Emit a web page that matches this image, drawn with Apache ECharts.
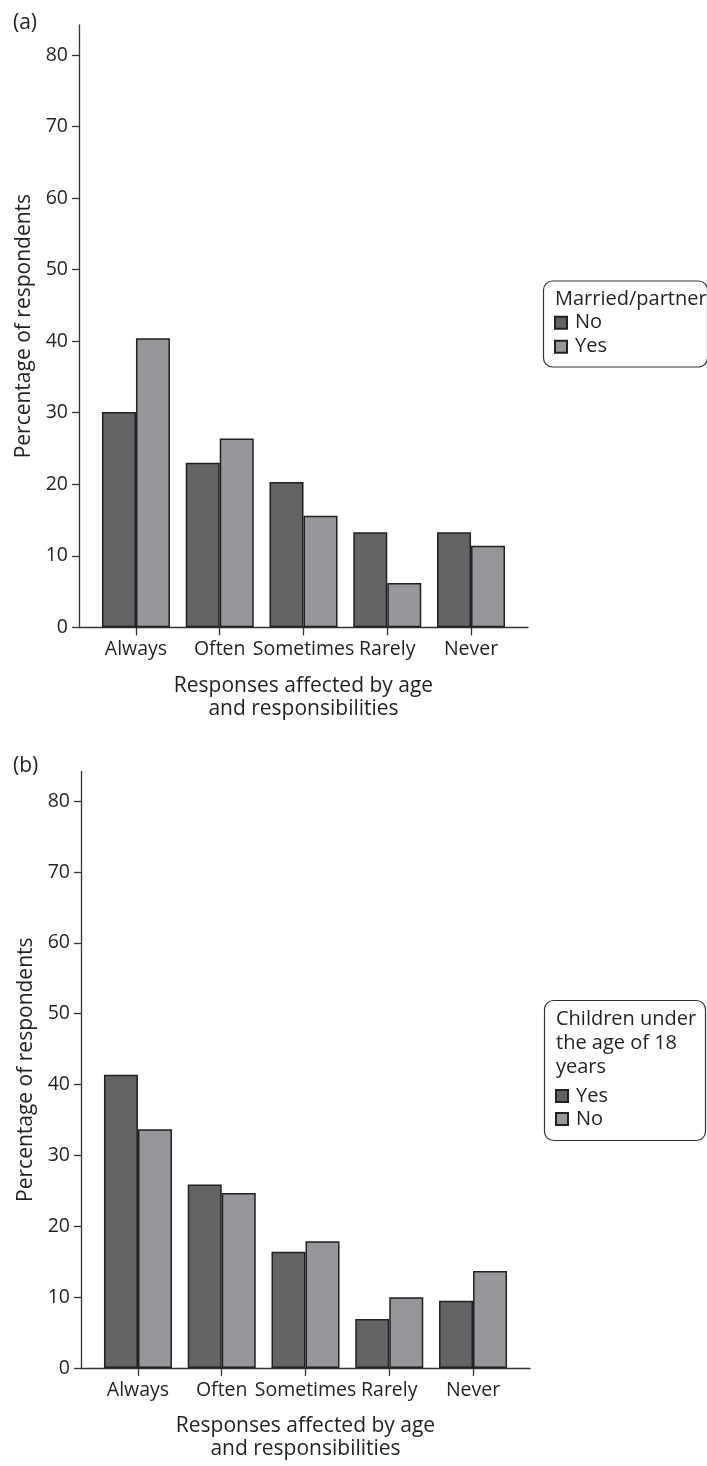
<!DOCTYPE html>
<html>
<head>
<meta charset="utf-8">
<script src="https://cdn.jsdelivr.net/npm/echarts@6/dist/echarts.min.js"></script>
<style>
  html, body { margin: 0; padding: 0; background: #fff; }
  #wrap { position: relative; width: 707px; height: 1466px; }
  #ca { position: absolute; left: 0; top: 0; width: 707px; height: 733px; }
  #cb { position: absolute; left: 0; top: 733px; width: 707px; height: 733px; }
</style>
</head>
<body>
<div id="wrap"><div id="ca"></div><div id="cb"></div></div>
<script>
const categories = ['Always', 'Often', 'Sometimes', 'Rarely', 'Never'];
const yTickValues = [0, 10, 20, 30, 40, 50, 60, 70, 80];
const xTickValues = [0, 1, 2, 3, 4];

// Panel (a): Married/partner
const marriedNo = [30.1, 23.0, 20.3, 13.3, 13.3];
const marriedYes = [40.4, 26.4, 15.6, 6.2, 11.4];
// Panel (b): Children under the age of 18 years
const childrenYes = [41.4, 25.9, 16.4, 6.9, 9.5];
const childrenNo = [33.7, 24.7, 17.9, 10.0, 13.7];

const TXT = '#231f20';
const DARK = '#636466';
const LIGHT = '#96979a';
const FONT = 'Open Sans';
const FS = 19.5;   // tick labels
const FSN = 21;    // axis names
const FSL = 20;    // legend text

function pairs(arr) { return arr.map((v, i) => [i, v]); }

function makeOption(c) {
  return {
    animation: false,
    textStyle: { fontFamily: FONT, color: TXT },
    title: [
      { text: c.panel, left: 13, top: c.panelTop, padding: 0,
        textStyle: { fontFamily: FONT, fontSize: 21, fontWeight: 'normal', color: TXT } },
      { text: c.legendTitle, left: c.boxLeft, top: c.boxTop, padding: c.boxPad,
        borderColor: '#333', borderWidth: 1.2, borderRadius: 9,
        textStyle: { fontFamily: FONT, fontSize: FSL, fontWeight: 'normal', color: TXT, lineHeight: c.lh } }
    ],
    legend: {
      data: c.names, orient: 'vertical', left: c.boxLeft + 11, top: c.legendTop,
      padding: 0, itemGap: 0, itemWidth: 12, itemHeight: 12, icon: 'rect',
      selectedMode: false,
      textStyle: { fontFamily: FONT, fontSize: FSL, color: TXT, lineHeight: c.lh2, padding: [0, 0, 0, 3] }
    },
    grid: { left: c.gridLeft, top: c.gridTop, width: 449, height: c.gridH, containLabel: false },
    xAxis: {
      type: 'value', min: -0.68, max: 4.68,
      splitLine: { show: false },
      axisLine: { show: true, onZero: false, lineStyle: { color: '#333', width: 1.3 } },
      axisTick: { show: true, length: 8, customValues: xTickValues, lineStyle: { color: '#333', width: 1.3 } },
      axisLabel: { customValues: xTickValues, margin: 12, fontFamily: FONT, fontSize: FS, color: TXT,
        formatter: v => categories[Math.round(v)] },
      name: 'Responses affected by age\nand responsibilities',
      nameLocation: 'middle', nameGap: 47,
      nameTextStyle: { fontFamily: FONT, fontSize: FSN, color: TXT, lineHeight: 23 }
    },
    yAxis: {
      type: 'value', min: 0, max: 84.2,
      splitLine: { show: false },
      axisLine: { show: true, onZero: false, lineStyle: { color: '#333', width: 1.3 } },
      axisTick: { show: true, length: 7, customValues: yTickValues, lineStyle: { color: '#333', width: 1.3 } },
      axisLabel: { customValues: yTickValues, margin: 11, fontFamily: FONT, fontSize: FS, color: TXT },
      name: 'Percentage of respondents',
      nameLocation: 'middle', nameGap: 43,
      nameTextStyle: { fontFamily: FONT, fontSize: FSN, color: TXT }
    },
    series: [
      { type: 'bar', name: c.names[0], data: pairs(c.s1), barWidth: 34, barGap: '0%',
        itemStyle: { color: DARK, borderColor: TXT, borderWidth: 1.5 } },
      { type: 'bar', name: c.names[1], data: pairs(c.s2), barWidth: 34, barGap: '0%',
        itemStyle: { color: LIGHT, borderColor: TXT, borderWidth: 1.5 } }
    ]
  };
}

const chartA = echarts.init(document.getElementById('ca'), null, { renderer: 'canvas' });
chartA.setOption(makeOption({
  panel: '(a)', panelTop: 13,
  legendTitle: 'Married/partner', names: ['No', 'Yes'], s1: marriedNo, s2: marriedYes,
  boxLeft: 543, boxTop: 281, boxPad: [6.5, 1, 56, 12], lh: 24, lh2: 24, legendTop: 310.7,
  gridLeft: 79, gridTop: 25, gridH: 602.3
}));

const chartB = echarts.init(document.getElementById('cb'), null, { renderer: 'canvas' });
chartB.setOption(makeOption({
  panel: '(b)', panelTop: 23,
  legendTitle: 'Children under\nthe age of 18\nyears', names: ['Yes', 'No'], s1: childrenYes, s2: childrenNo,
  boxLeft: 544, boxTop: 267.7, boxPad: [6.3, 10, 62, 12], lh: 24, lh2: 23, legendTop: 351.5,
  gridLeft: 81, gridTop: 38.4, gridH: 602
}));
</script>
</body>
</html>
